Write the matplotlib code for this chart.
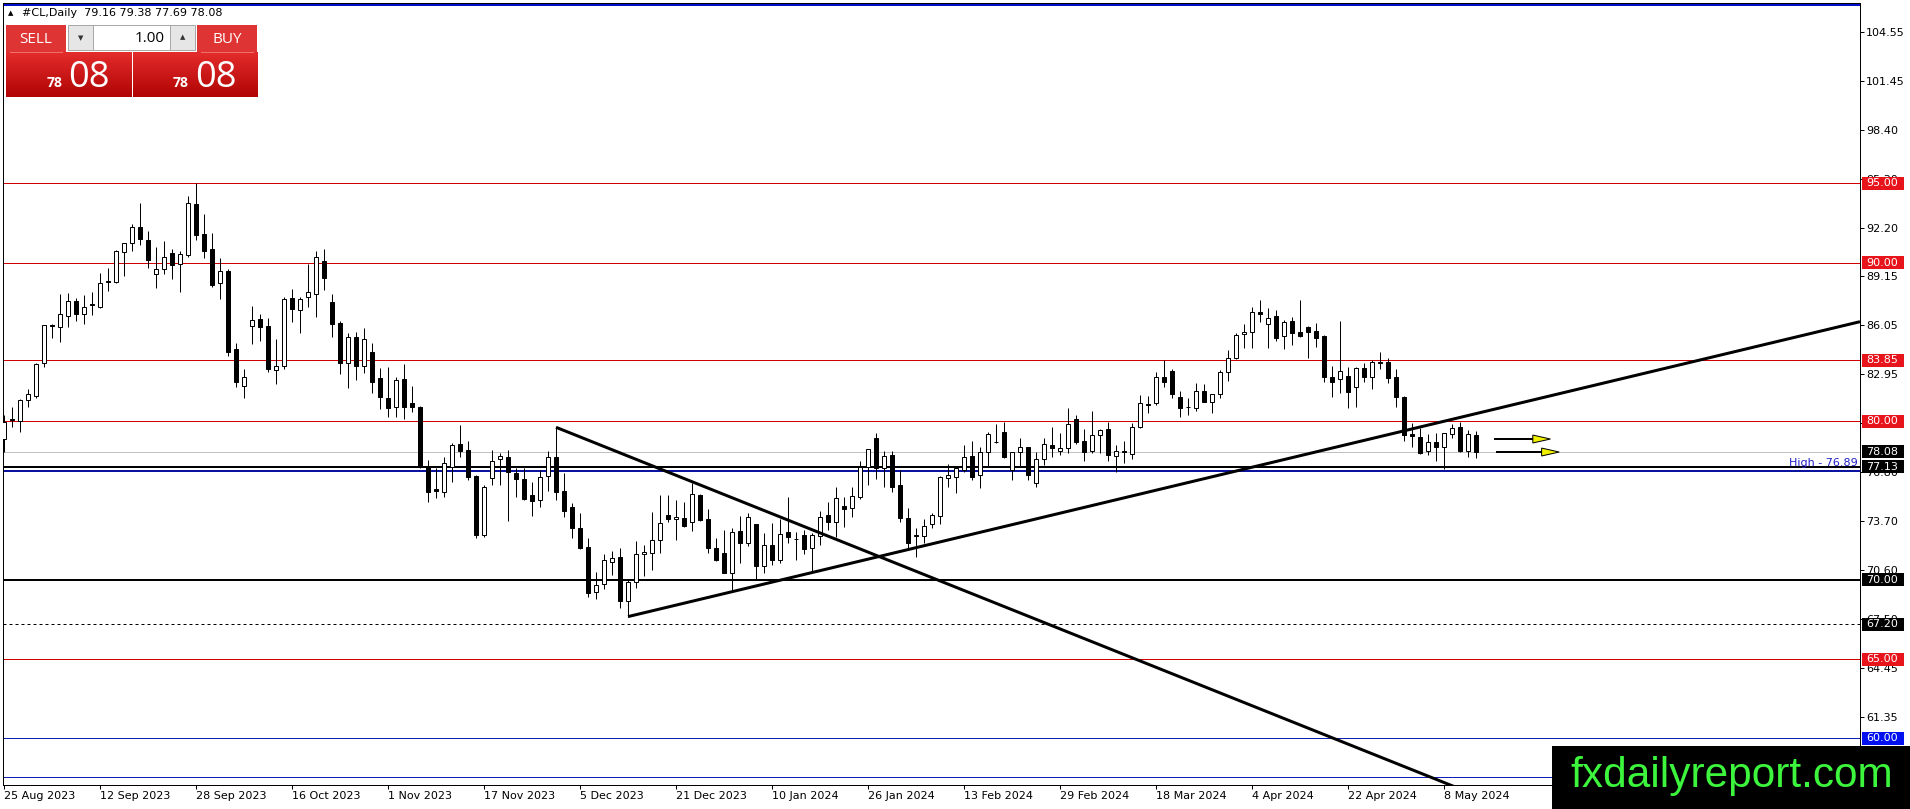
"""#CL daily candlestick chart with MT4-style levels, trend lines and trade panel."""
import numpy as np
import pandas as pd
import matplotlib
matplotlib.use("Agg")
import matplotlib.pyplot as plt
from matplotlib.patches import Rectangle, Polygon
from matplotlib.colors import LinearSegmentedColormap
from matplotlib import transforms

# ---------------------------------------------------------------------------
# Data
# ---------------------------------------------------------------------------
holidays = ["2023-12-25", "2024-01-01", "2024-03-29"]

opens = [
    78.86, 80.15, 80.04, 81.35, 81.62, 83.66, 86.10, 85.93, 86.66, 87.57,
    86.79, 87.40, 87.23, 88.82, 88.81, 90.68, 91.23, 92.23, 91.41, 89.27,
    89.59, 90.60, 89.90, 90.49, 93.70, 91.79, 90.87, 88.70, 89.48, 84.54,
    82.25, 86.01, 86.43, 86.01, 83.21, 83.50, 87.75, 86.99, 87.81, 88.00,
    90.11, 87.50, 86.17, 83.65, 85.33, 83.50, 84.35, 82.75, 81.45, 80.88,
    82.66, 81.13, 80.88, 77.14, 75.70, 75.56, 77.14, 78.56, 78.19, 76.55,
    72.83, 76.40, 77.60, 77.72, 76.76, 76.36, 75.35, 75.03, 76.57, 77.72,
    75.60, 74.61, 73.29, 72.09, 69.25, 69.72, 71.15, 71.46, 68.69, 69.84,
    71.66, 71.67, 72.51, 74.09, 73.84, 73.88, 73.63, 75.35, 73.84, 71.99,
    71.67, 70.45, 73.08, 72.34, 73.52, 70.89, 72.19, 71.25, 72.99, 72.60,
    72.83, 71.98, 72.76, 74.09, 73.67, 74.65, 74.51, 75.20, 77.09, 78.92,
    77.03, 77.87, 75.98, 73.92, 72.80, 72.76, 73.50, 74.04, 76.40, 76.46,
    76.92, 77.81, 76.61, 78.08, 78.68, 79.30, 76.93, 78.08, 78.36, 76.09,
    77.60, 78.50, 78.15, 78.29, 80.12, 78.76, 78.15, 79.13, 79.49, 77.81,
    78.10, 77.94, 79.62, 81.10, 81.13, 82.77, 83.17, 81.55, 80.90, 80.82,
    81.93, 81.24, 81.70, 83.13, 83.97, 85.48, 85.65, 86.87, 86.11, 86.64,
    85.38, 86.32, 85.63, 85.92, 85.69, 85.38, 82.77, 82.64, 82.85, 82.14,
    83.34, 82.77, 83.76, 83.72, 82.77, 81.51, 79.20, 79.03, 78.15, 78.71,
    78.36, 79.20, 79.62, 78.15, 79.16]

highs = [
    80.40, 80.88, 81.40, 82.04, 83.70, 86.05, 86.12, 88.03, 88.07, 87.80,
    87.95, 88.14, 89.33, 89.65, 90.80, 91.25, 92.44, 93.75, 92.00, 90.97,
    91.37, 90.87, 90.74, 94.21, 95.01, 93.07, 91.86, 90.28, 89.59, 84.96,
    83.28, 87.27, 86.76, 86.49, 85.19, 87.81, 88.32, 87.81, 89.92, 90.74,
    90.86, 88.00, 86.32, 85.59, 85.65, 85.86, 84.96, 83.34, 83.40, 82.81,
    83.59, 82.24, 80.98, 77.56, 77.03, 77.73, 78.65, 79.76, 78.75, 76.61,
    75.98, 78.19, 77.98, 78.19, 77.03, 77.03, 76.19, 76.93, 78.14, 79.62,
    76.76, 74.82, 74.19, 72.62, 70.47, 71.63, 71.84, 71.99, 69.99, 72.45,
    72.20, 74.30, 75.35, 75.35, 75.03, 74.93, 76.08, 75.41, 74.47, 72.62,
    73.14, 73.25, 74.02, 74.19, 73.55, 72.93, 73.56, 73.81, 75.20, 73.04,
    73.14, 72.93, 74.36, 74.88, 75.83, 75.24, 75.83, 77.49, 78.25, 79.24,
    78.12, 78.12, 76.92, 74.55, 73.25, 73.81, 74.23, 76.57, 77.30, 77.05,
    78.50, 78.75, 78.40, 79.30, 79.81, 79.97, 78.06, 78.92, 78.38, 78.08,
    78.92, 79.66, 79.24, 80.86, 80.40, 79.49, 80.65, 79.49, 79.97, 78.50,
    78.76, 79.87, 81.66, 81.61, 83.09, 83.86, 83.30, 81.93, 81.45, 82.43,
    82.35, 81.72, 83.23, 84.49, 85.54, 86.13, 87.18, 87.65, 87.12, 87.02,
    86.39, 86.60, 87.65, 86.01, 86.18, 85.44, 83.48, 86.32, 83.44, 83.44,
    83.65, 83.86, 84.39, 83.97, 83.30, 81.61, 79.87, 79.55, 79.20, 79.24,
    79.26, 79.83, 79.97, 79.45, 79.38]

lows = [
    78.09, 79.62, 79.35, 80.88, 81.49, 83.45, 85.28, 85.00, 85.93, 86.35,
    86.14, 86.71, 87.17, 88.24, 88.70, 89.19, 90.76, 91.10, 89.69, 88.39,
    89.29, 88.98, 88.18, 90.38, 91.44, 90.28, 88.45, 87.71, 84.14, 82.14,
    81.49, 84.85, 85.08, 83.13, 82.33, 83.32, 86.28, 85.59, 87.18, 86.60,
    88.28, 85.33, 82.96, 82.08, 82.60, 83.06, 81.80, 80.75, 80.29, 80.25,
    80.12, 80.60, 77.03, 74.93, 75.18, 75.24, 76.19, 77.77, 76.29, 72.62,
    72.72, 75.98, 75.98, 73.73, 75.24, 75.03, 74.05, 74.61, 75.62, 75.03,
    73.94, 72.62, 71.94, 68.90, 68.77, 69.42, 70.30, 68.20, 67.68, 69.46,
    70.26, 70.62, 71.71, 73.63, 72.51, 73.35, 73.10, 73.73, 71.71, 71.21,
    70.41, 69.36, 71.04, 72.15, 70.05, 70.45, 70.93, 71.04, 72.30, 71.25,
    71.63, 70.58, 72.19, 73.14, 72.72, 73.35, 73.94, 75.10, 75.98, 76.36,
    75.83, 75.52, 73.67, 71.98, 71.42, 72.30, 73.25, 73.52, 75.87, 75.50,
    76.82, 76.29, 75.77, 77.14, 78.60, 77.66, 76.30, 77.14, 76.30, 75.83,
    77.24, 77.77, 77.87, 78.02, 78.57, 77.52, 77.98, 77.98, 77.52, 76.82,
    77.35, 77.60, 79.60, 80.50, 81.03, 82.18, 81.45, 80.29, 80.40, 80.67,
    81.20, 80.54, 81.49, 82.56, 83.91, 84.64, 84.64, 86.28, 84.64, 85.08,
    84.54, 84.81, 85.29, 84.01, 84.70, 82.50, 81.55, 81.80, 80.81, 80.88,
    82.50, 82.01, 83.27, 82.39, 80.92, 78.78, 78.40, 77.93, 77.87, 77.52,
    76.99, 78.92, 78.08, 77.77, 77.69]

closes = [
    79.98, 80.05, 81.35, 81.70, 83.62, 86.05, 86.00, 86.75, 87.57, 86.75,
    87.19, 87.35, 88.74, 88.78, 90.74, 91.23, 92.23, 91.48, 90.15, 89.59,
    90.34, 89.86, 90.53, 93.75, 91.75, 90.76, 88.60, 89.48, 84.39, 82.50,
    82.77, 86.39, 85.92, 83.27, 83.50, 87.69, 87.06, 87.69, 88.17, 90.34,
    89.01, 86.11, 83.65, 85.29, 83.50, 85.17, 82.50, 81.51, 80.81, 82.60,
    80.88, 80.88, 77.14, 75.56, 75.60, 77.35, 78.50, 78.14, 76.50, 72.83,
    75.87, 77.49, 77.81, 76.78, 76.36, 75.10, 74.99, 76.50, 77.72, 75.56,
    74.36, 73.25, 72.03, 69.15, 69.67, 71.25, 71.36, 68.69, 69.84, 71.61,
    71.74, 72.51, 73.56, 73.81, 73.94, 73.40, 75.39, 73.77, 71.99, 71.25,
    70.45, 72.99, 72.34, 73.94, 70.89, 72.19, 71.25, 72.87, 72.72, 72.55,
    71.92, 72.83, 73.98, 73.62, 75.14, 74.49, 75.31, 77.09, 78.23, 77.03,
    77.79, 75.83, 73.88, 72.34, 72.78, 73.41, 74.09, 76.46, 76.61, 77.03,
    77.72, 76.50, 78.04, 79.20, 78.67, 77.77, 78.04, 78.36, 76.61, 77.60,
    78.57, 78.29, 78.29, 79.83, 78.71, 78.08, 79.13, 79.43, 77.87, 78.12,
    78.06, 79.62, 81.13, 81.05, 82.77, 82.50, 81.72, 80.82, 80.87, 81.93,
    81.24, 81.70, 83.09, 83.97, 85.42, 85.63, 86.87, 86.74, 86.53, 85.23,
    86.24, 85.59, 85.40, 85.65, 85.27, 82.81, 82.50, 83.19, 81.87, 83.38,
    82.81, 83.76, 83.65, 82.71, 81.51, 79.13, 79.07, 77.98, 78.67, 78.36,
    79.24, 79.55, 78.15, 79.20, 78.08]

y_ticks = [104.55, 101.45, 98.40, 95.30, 92.20, 89.15, 86.05, 82.95, 79.90,
           76.80, 73.70, 70.60, 67.50, 64.45, 61.35, 58.25]

red_levels = [95.00, 90.00, 83.85, 80.00, 65.00]
black_levels = [77.13, 70.00]
dashed_level = 67.20
high_level = 76.89
blue_levels = [60.00, 57.55]
top_level = 106.27
bid = 78.08

price_tags = [(95.00, "#e8141c"), (90.00, "#e8141c"), (83.85, "#e8141c"),
              (80.00, "#e8141c"), (78.08, "black"), (77.13, "black"),
              (70.00, "black"), (67.20, "black"), (65.00, "#e8141c"),
              (60.00, "#0010f0")]

# trend lines: (bar index, price) anchors
up_line = [(78, 67.68), (232, 86.28)]
down_line = [(69, 79.62), (190, 55.20)]

# yellow arrows: start bar, shaft end bar, price
arrows = [(186.4, 191.1, 78.88), (186.6, 192.2, 78.06)]
arrow_head = 2.2

ohlc_title = "#CL,Daily  79.16 79.38 77.69 78.08"
lot = "1.00"
quote_big, quote_small = "08", "78"

# ---------------------------------------------------------------------------
W, H = 1910, 809
PX = 0.72  # one pixel in points at dpi 100

plt.rcParams["font.family"] = ["DejaVu Sans"]
plt.rcParams["font.size"] = 8

dates = pd.bdate_range("2023-08-25", "2024-05-14")
dates = dates[~dates.isin(pd.to_datetime(holidays))]
o, h, l, c = (np.array(a) for a in (opens, highs, lows, closes))
assert len(dates) == len(o) == len(h) == len(l) == len(c)
idx = np.arange(len(o))

fig = plt.figure(figsize=(W / 100, H / 100), dpi=100)
ax = fig.add_axes([3 / W, (H - 785) / H, 1857 / W, 782.5 / H])
ax.set_facecolor("white")

# candles
ax.vlines(idx, l, h, color="black", linewidth=PX, zorder=3)
up = c >= o
body_lo = np.minimum(o, c)
body_h = np.maximum(np.abs(c - o), 0.03)
ax.bar(idx, body_h, bottom=body_lo, width=0.5,
       color=np.where(up, "white", "black"), edgecolor="black",
       linewidth=PX, zorder=4)

# horizontal levels
for p in red_levels:
    ax.axhline(p, color="#d00000", linewidth=PX, zorder=2)
for p in black_levels:
    ax.axhline(p, color="black", linewidth=2 * PX, zorder=2)
ax.axhline(dashed_level, color="black", linewidth=PX, linestyle=(0, (3, 3)), zorder=2)
ax.axhline(high_level, color="#0a14a0", linewidth=2 * PX, zorder=2)
for p in blue_levels:
    ax.axhline(p, color="#1020b0", linewidth=PX, zorder=2)
ax.axhline(top_level, color="#0010c8", linewidth=2 * PX, zorder=2)
ax.axhline(bid, color="#c0c0c0", linewidth=PX, zorder=1)

ax.text(231.7, 77.2, f"High - {high_level:.2f}", color="#2020c8", fontsize=8,
        ha="right", va="baseline", zorder=5)

# trend lines
for line in (up_line, down_line):
    xs, ys = zip(*line)
    ax.plot(xs, ys, color="black", linewidth=3 * PX, zorder=5,
            solid_capstyle="butt")

# arrows
for x0, x1, y in arrows:
    ax.plot([x0, x1], [y, y], color="black", linewidth=2 * PX, zorder=5)
    ax.add_patch(Polygon([(x1, y + 0.25), (x1 + arrow_head, y), (x1, y - 0.25)],
                         closed=True, facecolor="#f0f000", edgecolor="black",
                         linewidth=PX, zorder=6))

ax.set_xlim(-0.125, 232.0)
ax.set_ylim(57.06, 106.41)

# axes styling
for s in ax.spines.values():
    s.set_linewidth(PX)
    s.set_color("black")
ax.set_xticks(idx[::12])
ax.set_xticklabels([f"{d.day} {d:%b %Y}" for d in dates[::12]], ha="left")
ax.yaxis.tick_right()
ax.set_yticks(y_ticks)
ax.set_yticklabels([f"{t:.2f}" for t in y_ticks])
ax.tick_params(axis="both", direction="out", length=3, width=PX, pad=1.5,
               labelsize=8, colors="black")

# overlay in pixel coordinates
ov = fig.add_axes([0, 0, 1, 1], zorder=10)
ov.set_xlim(0, W)
ov.set_ylim(H, 0)
ov.axis("off")

# price tags on the right scale
tag_tr = transforms.blended_transform_factory(ov.transData, ax.transData)
tag_h = 13 / 15.856
for p, col in price_tags:
    ov.add_patch(Rectangle((1862, p - tag_h / 2), 42, tag_h, transform=tag_tr,
                           facecolor=col, edgecolor="none", zorder=3))
    ov.text(1866.5, p, f"{p:.2f}", transform=tag_tr, color="white",
            fontsize=8, ha="left", va="center", zorder=4)

# header
ov.text(11, 13, "\u25b2", fontsize=5, ha="center", va="center", color="black")
ov.text(21.5, 13, ohlc_title, fontsize=8, ha="left", va="center", color="black")

# trade panel
red_grad = LinearSegmentedColormap.from_list("rg", ["#e42c2c", "#b10404"])
grad = np.linspace(0, 1, 64).reshape(-1, 1)
for x0, x1 in ((6, 131), (133, 257)):
    ov.imshow(grad, extent=(x0, x1, 97, 52), cmap=red_grad, aspect="auto",
              interpolation="bilinear", zorder=2)
for x0, x1, label in ((6, 66, "SELL"), (197, 257, "BUY")):
    ov.add_patch(Rectangle((x0, 25), x1 - x0, 27, facecolor="#de3434",
                           edgecolor="none", zorder=2))
    ov.plot([x0 + 4, x1 - 4], [51.5, 51.5], color="#f07070", linewidth=PX, zorder=3)
    ov.text((x0 + x1) / 2, 39, label, color="white", fontsize=11,
            family="Open Sans", ha="center", va="center", zorder=4)
ov.add_patch(Rectangle((68, 25), 127, 25, facecolor="#e6e6e6",
                       edgecolor="#a8a8a8", linewidth=PX, zorder=2))
ov.add_patch(Rectangle((93, 25), 77, 25, facecolor="white",
                       edgecolor="#a8a8a8", linewidth=PX, zorder=3))
ov.text(80.5, 38, "\u25bc", fontsize=5, ha="center", va="center", color="#333333", zorder=4)
ov.text(182.5, 37, "\u25b2", fontsize=5, ha="center", va="center", color="#333333", zorder=4)
ov.text(165, 38, lot, fontsize=11, family="Open Sans", ha="right", va="center",
        color="black", zorder=4)
for xs, xb in ((47, 68), (173, 195)):
    ov.text(xs, 87, quote_small, fontsize=10, family="Open Sans", weight="bold",
            color="white", ha="left", va="baseline", zorder=4)
    ov.text(xb, 87, quote_big, fontsize=26, family="Open Sans", color="white",
            ha="left", va="baseline", zorder=4)
ov.set_xlim(0, W)
ov.set_ylim(H, 0)

# watermark
ov.add_patch(Rectangle((1552, 746), W - 1552, H - 746, facecolor="black",
                       edgecolor="none", zorder=5))
ov.text(1570, 787, "fxdailyreport.com", fontsize=30.5, family="Liberation Sans",
        color="#3cf53c", ha="left", va="baseline", zorder=6)

fig.savefig("out.png", dpi=100)
